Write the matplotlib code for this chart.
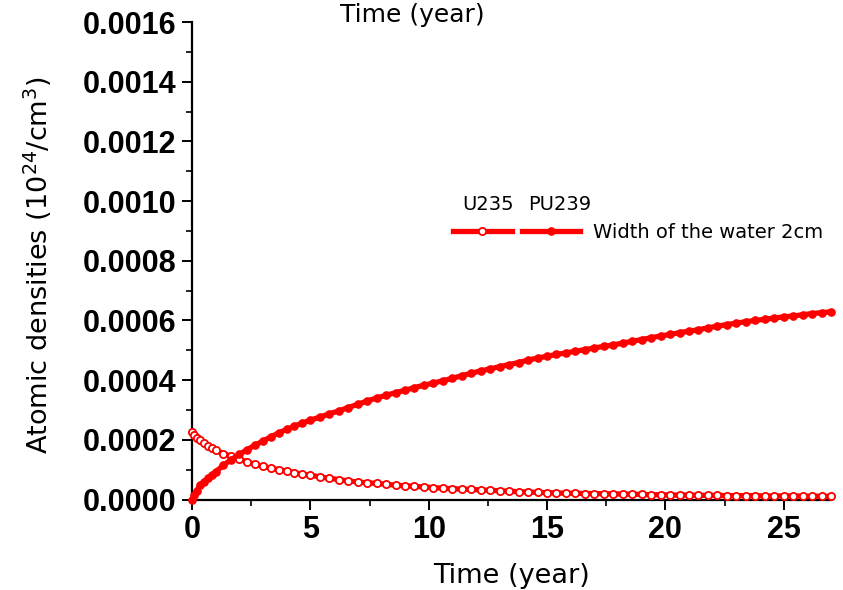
import matplotlib
matplotlib.use("Agg")
import matplotlib.pyplot as plt
from matplotlib.ticker import MultipleLocator, FormatStrFormatter
from matplotlib.legend_handler import HandlerTuple

# time steps (year)
time = [0, 0.1, 0.2, 0.33, 0.5, 0.66, 0.83, 1.0, 1.33, 1.66, 2.0, 2.33, 2.66,
        3.0, 3.33, 3.66, 4.0, 4.33, 4.66, 5.0,
        5.4, 5.8, 6.2, 6.6, 7.0, 7.4, 7.8, 8.2, 8.6, 9.0, 9.4, 9.8,
        10.2, 10.6, 11.0, 11.4, 11.8, 12.2, 12.6, 13.0, 13.4, 13.8, 14.2, 14.6,
        15.0, 15.4, 15.8, 16.2, 16.6, 17.0, 17.4, 17.8, 18.2, 18.6, 19.0, 19.4,
        19.8, 20.2, 20.6, 21.0, 21.4, 21.8, 22.2, 22.6, 23.0, 23.4, 23.8, 24.2,
        24.6, 25.0, 25.4, 25.8, 26.2, 26.6, 27.0]

# atomic densities (10^24 / cm^3)
u235 = [0.000225, 0.000216, 0.000207, 0.000198, 0.000188, 0.000180, 0.000172,
        0.000165, 0.000154, 0.000145, 0.000135, 0.000126, 0.000118,
        0.000111, 0.000105, 0.000100, 0.000095, 0.000090, 0.000085, 0.000081,
        0.000076, 0.000071, 0.000067, 0.000062, 0.000059, 0.000056, 0.000054,
        0.000051, 0.000048, 0.000046, 0.000044, 0.000042,
        0.000040, 0.000038, 0.000036, 0.000035, 0.000034, 0.000032, 0.000031,
        0.000029, 0.000028, 0.000026, 0.000025, 0.000024,
        0.000023, 0.000022, 0.000021, 0.000021, 0.000020, 0.000020, 0.000019,
        0.000019, 0.000018, 0.000018, 0.000017, 0.000016,
        0.000016, 0.000015, 0.000015, 0.000015, 0.000014, 0.000014, 0.000014,
        0.000013, 0.000013, 0.000013, 0.000013, 0.000012,
        0.000012, 0.000012, 0.000012, 0.000011, 0.000011, 0.000011, 0.000011]

pu239 = [0.0, 0.000015, 0.000029, 0.000047, 0.000060, 0.000071, 0.000082,
         0.000093, 0.000115, 0.000134, 0.000151, 0.000167, 0.000182,
         0.000196, 0.000210, 0.000223, 0.000235, 0.000246, 0.000256, 0.000266,
         0.000276, 0.000287, 0.000297, 0.000308, 0.000319, 0.000330, 0.000340,
         0.000349, 0.000358, 0.000366, 0.000375, 0.000383,
         0.000390, 0.000398, 0.000406, 0.000415, 0.000423, 0.000431, 0.000438,
         0.000445, 0.000452, 0.000459, 0.000467, 0.000474,
         0.000480, 0.000486, 0.000491, 0.000497, 0.000502, 0.000508, 0.000513,
         0.000518, 0.000524, 0.000530, 0.000536, 0.000542,
         0.000548, 0.000553, 0.000559, 0.000564, 0.000569, 0.000575, 0.000581,
         0.000586, 0.000591, 0.000596, 0.000600, 0.000604,
         0.000608, 0.000612, 0.000615, 0.000619, 0.000623, 0.000626, 0.000629]

series_names = ["U235", "PU239"]
legend_label = "Width of the water 2cm"
x_ticks = [0, 5, 10, 15, 20, 25]

W, H = 843, 590
fig = plt.figure(figsize=(W / 100, H / 100), dpi=100)
ax = fig.add_axes([192 / W, 1 - 499.5 / H, 639 / W, 477.5 / H])

red = "#ff0000"
l1, = ax.plot(time, u235, color=red, lw=3.8, marker="o", ms=5.2,
              mfc="white", mec=red, mew=1.3, clip_on=False, zorder=3)
l2, = ax.plot(time, pu239, color=red, lw=3.8, marker="o", ms=5.2,
              mfc=red, mec=red, clip_on=False, zorder=3)

ax.set_xlim(0, 27)
ax.set_ylim(0, 0.0016)
ax.set_xticks(x_ticks)
ax.xaxis.set_minor_locator(MultipleLocator(2.5))
ax.yaxis.set_major_locator(MultipleLocator(0.0002))
ax.yaxis.set_minor_locator(MultipleLocator(0.0001))
ax.yaxis.set_major_formatter(FormatStrFormatter("%.4f"))

for s in ["top", "right"]:
    ax.spines[s].set_visible(False)
for s in ["left", "bottom"]:
    ax.spines[s].set_linewidth(1.6)

ax.tick_params(which="major", direction="out", length=7, width=1.4, pad=4)
ax.tick_params(which="minor", direction="out", length=4, width=1.2)
for lab in ax.get_xticklabels() + ax.get_yticklabels():
    lab.set_fontfamily("Liberation Sans")
    lab.set_fontweight("bold")
    lab.set_fontsize(22)

ax.set_xlabel("Time (year)", fontsize=19.5, family="DejaVu Sans")
ax.xaxis.set_label_coords(0.5, -0.132)
fig.text(38 / W, 1 - 265 / H, r"Atomic densities (10$^{24}$/cm$^{3}$)",
         rotation=90, ha="center", va="center", fontsize=19.5,
         family="DejaVu Sans")
fig.text(412 / W, 1 - 15 / H, "Time (year)", ha="center", va="center",
         fontsize=18, family="DejaVu Sans")

# legend: two samples side by side sharing one label, names above
leg = ax.legend([(l1, l2)], [legend_label],
                handler_map={tuple: HandlerTuple(ndivide=None, pad=0.52)},
                loc="center left", bbox_to_anchor=(453 / W, 1 - 232 / H),
                bbox_transform=fig.transFigure, frameon=False,
                prop={"family": "DejaVu Sans", "size": 14},
                handlelength=6.55, handletextpad=0.67, borderpad=0,
                borderaxespad=0, numpoints=1)
fig.text(488 / W, 1 - 205 / H, series_names[0], ha="center", va="center",
         fontsize=14, family="DejaVu Sans")
fig.text(560 / W, 1 - 205 / H, series_names[1], ha="center", va="center",
         fontsize=14, family="DejaVu Sans")

fig.savefig("out.png", dpi=100)
